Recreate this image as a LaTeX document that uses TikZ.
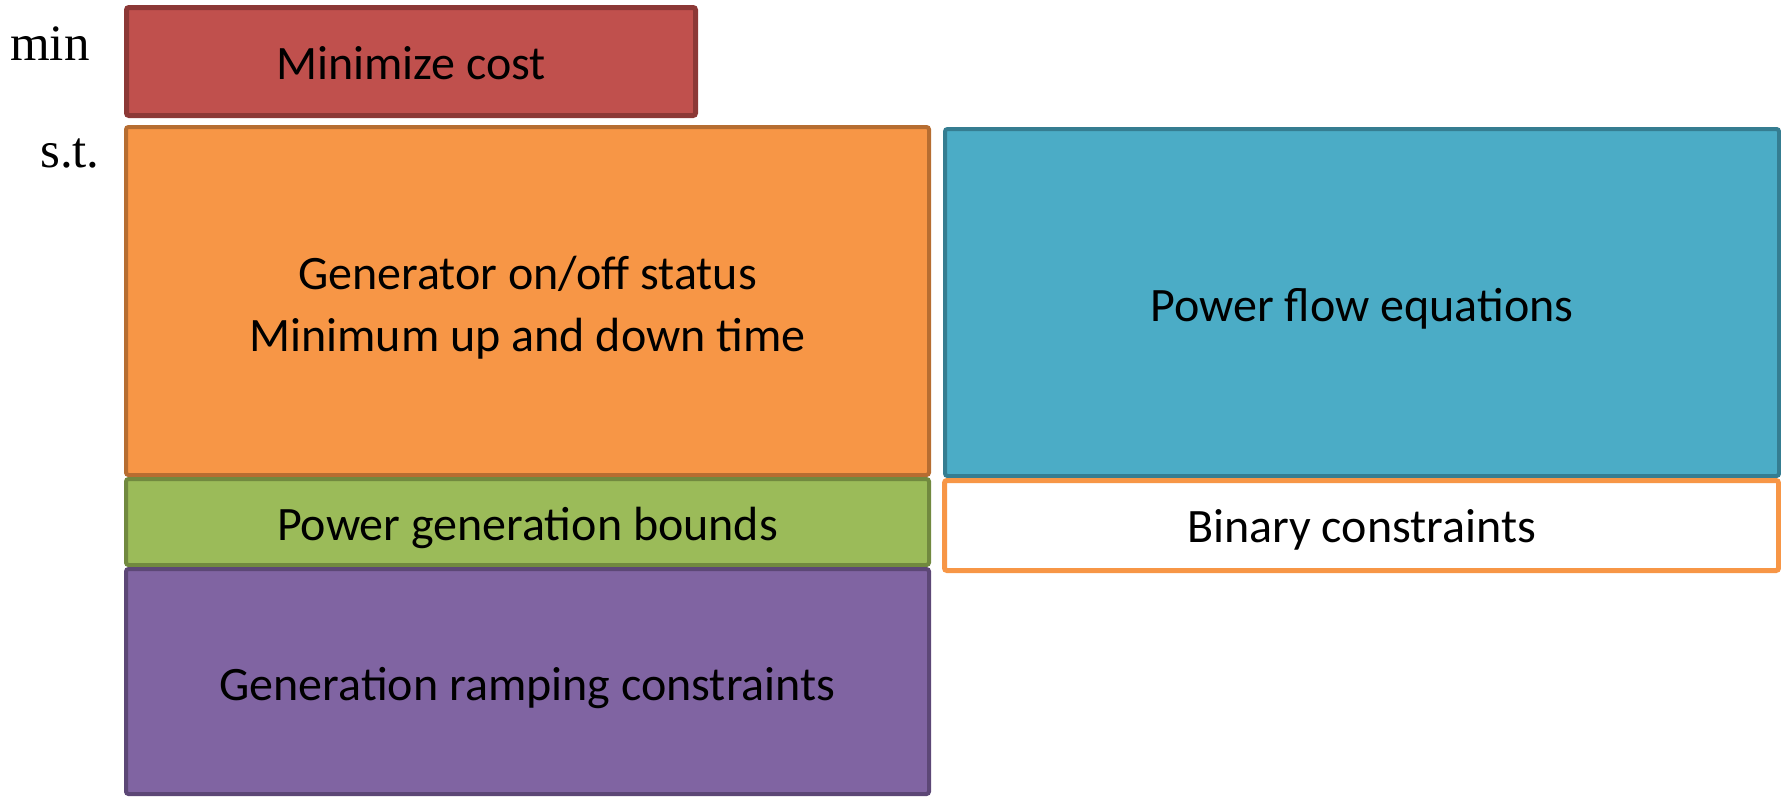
\documentclass[tikz,border=0pt]{standalone}
\usepackage{fontspec}
\setmainfont{Carlito}
\newfontfamily\mathlabel{Liberation Serif}
\definecolor{costfill}{HTML}{C0504D}
\definecolor{costline}{HTML}{8C3836}
\definecolor{unitfill}{HTML}{F79646}
\definecolor{unitline}{HTML}{B66D31}
\definecolor{boundfill}{HTML}{9BBB59}
\definecolor{boundline}{HTML}{71893F}
\definecolor{rampfill}{HTML}{8064A2}
\definecolor{rampline}{HTML}{5C4776}
\definecolor{flowfill}{HTML}{4BACC6}
\definecolor{flowline}{HTML}{357D91}
\tikzset{
  block/.style={draw, rectangle, rounded corners=2.5, inner sep=0pt},
  caption/.style={inner sep=0pt, align=center, text=black,
    font=\fontsize{48}{62}\selectfont},
  side/.style={inner sep=0pt, font=\mathlabel\fontsize{51}{58}\selectfont, text=black}
}
\begin{document}
\begin{tikzpicture}[x=1pt, y=-1pt]
  \useasboundingbox (0,0) rectangle (1781,796);
  % objective
  \node[block, line width=5pt, fill=costfill, draw=costline,
        minimum width=569pt, minimum height=108pt] (cost) at (411,61.5) {};
  % unit commitment constraints
  \node[block, line width=4pt, fill=unitfill, draw=unitline,
        minimum width=803pt, minimum height=348pt] (status) at (527.5,301) {};
  \node[block, line width=4pt, fill=boundfill, draw=boundline,
        minimum width=803pt, minimum height=86pt] (bounds) at (527.5,522) {};
  \node[block, line width=4pt, fill=rampfill, draw=rampline,
        minimum width=803pt, minimum height=225pt] (ramp) at (527.5,681.5) {};
  % network constraints
  \node[block, line width=4pt, fill=flowfill, draw=flowline,
        minimum width=834pt, minimum height=347pt] (flow) at (1362,302.5) {};
  \node[block, line width=5pt, fill=white, draw=unitfill,
        minimum width=834pt, minimum height=90pt] (binary) at (1361.5,525.5) {};
  % box captions
  \node[caption] (costtext) at ([yshift=-2pt]cost.center) {Minimize cost};
  \node[caption] (statustext) at ([yshift=-7pt]status.center)
        {Generator on/off status\\Minimum up and down time};
  \node[caption] (boundstext) at ([yshift=-6pt]bounds.center) {Power generation bounds};
  \node[caption] (ramptext) at ([yshift=-7pt]ramp.center) {Generation ramping constraints};
  \node[caption] (flowtext) at ([yshift=-6pt]flow.center) {Power flow equations};
  \node[caption] (binarytext) at ([yshift=-4pt]binary.center) {Binary constraints};
  % row labels
  \node[side, anchor=base west] (min) at (10,60) {min};
  \node[side, anchor=base west] (st) at (40,167) {s.t.};
\end{tikzpicture}
\end{document}
